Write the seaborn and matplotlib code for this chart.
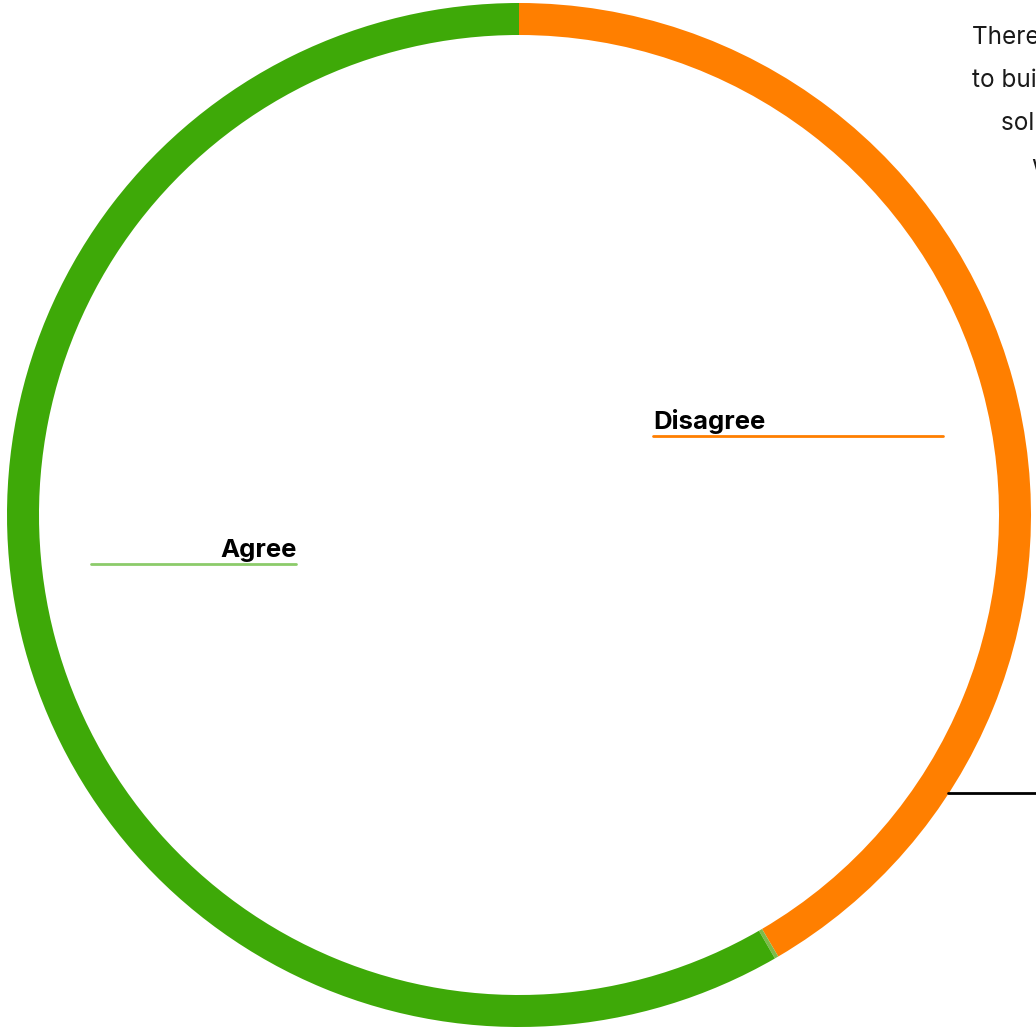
import matplotlib
matplotlib.use("Agg")
import matplotlib.pyplot as plt
import seaborn as sns

# ---- data ----
categories = ["Disagree", "Neutral", "Agree"]
values = [41.55, 0.12, 58.33]
colors = ["#FF7F00", "#7DBB4A", "#3EA908"]
label_colors = {"Disagree": "#FF7F00", "Agree": "#8CCB6A"}
note_lines = ["There is a need", "to build more", "solutions for", "women"]

sns.set_theme(style="white")
plt.rcParams['font.family'] = ['Inter', 'DejaVu Sans']

W, H = 1036, 1029
fig = plt.figure(figsize=(W / 100, H / 100), dpi=100)
cx, cy, R = 519, 515, 512
ax = fig.add_axes([(cx - R) / W, (H - cy - R) / H, 2 * R / W, 2 * R / H])
ax.pie(values, colors=colors, startangle=90, counterclock=False, radius=1,
       wedgeprops=dict(width=32 / R, linewidth=0))
ax.set_xlim(-1, 1)
ax.set_ylim(-1, 1)
ax.set_aspect('equal')
ax.axis('off')

def fx(px):
    return px / W

def fy(py):
    return 1 - py / H

# labels with underline
fig.text(fx(653), fy(429), "Disagree", fontsize=18.5, fontweight='bold', color='black',
         ha='left', va='baseline')
fig.add_artist(plt.Line2D([fx(653), fx(943)], [fy(436), fy(436)], color=label_colors["Disagree"], lw=2))
fig.text(fx(297), fy(557), "Agree", fontsize=18.5, fontweight='bold', color='black',
         ha='right', va='baseline')
fig.add_artist(plt.Line2D([fx(91), fx(296)], [fy(564), fy(564)], color=label_colors["Agree"], lw=2))

# callout line
fig.add_artist(plt.Line2D([fx(948), fx(1040)], [fy(793), fy(793)], color='black', lw=2))

# note text (cut off at right edge, as in the reference)
starts = [972, 972, 1001, 1031]
bases = [44, 87, 130, 173]
for s, b, t in zip(starts, bases, note_lines):
    fig.text(fx(s), fy(b), t, fontsize=17.5, color='#1a1a1a', ha='left', va='baseline')

fig.savefig("out.png", dpi=100, facecolor='white')
